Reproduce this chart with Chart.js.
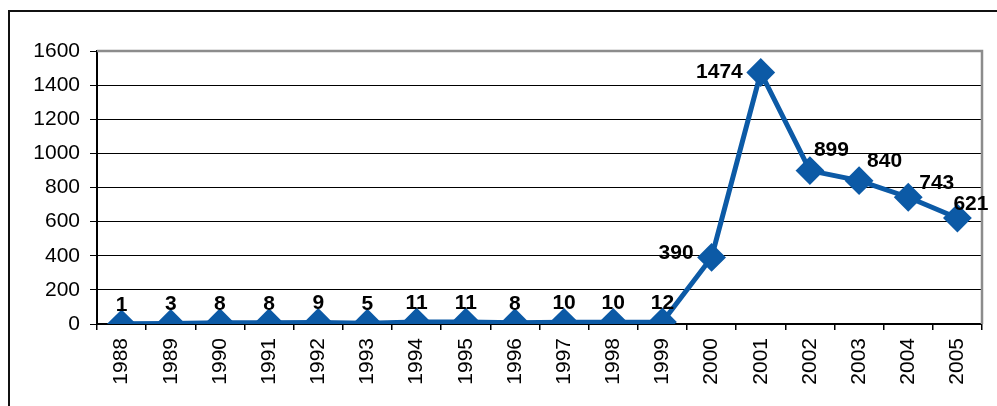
<!DOCTYPE html>
<html>
<head>
<meta charset="utf-8">
<script src="https://cdn.jsdelivr.net/npm/chart.js@4/dist/chart.umd.min.js"></script>
<style>
  html, body { margin: 0; padding: 0; background: #fff; }
  #wrap { position: relative; width: 997px; height: 406px; overflow: hidden; }
  #frame { position: absolute; left: 8px; top: 10px; width: 1000px; height: 420px; border: 2px solid #111; }
  #chart { position: absolute; left: 0; top: 0; }
</style>
</head>
<body>
<div id="wrap">
  <div id="frame"></div>
  <canvas id="chart" width="997" height="406"></canvas>
</div>
<script>
const years = ["1988", "1989", "1990", "1991", "1992", "1993", "1994", "1995", "1996",
  "1997", "1998", "1999", "2000", "2001", "2002", "2003", "2004", "2005"];
const counts = [1, 3, 8, 8, 9, 5, 11, 11, 8, 10, 10, 12, 390, 1474, 899, 840, 743, 621];
const yTicks = [0, 200, 400, 600, 800, 1000, 1200, 1400, 1600];

// where each value label sits relative to its point
const labelAlign = ["above", "above", "above", "above", "above", "above", "above", "above", "above",
  "above", "above", "above", "left", "left", "right", "right", "right", "right"];
const labelNudge = [[0, 0], [0, 0], [0, 0], [0, 0], [0, 0], [0, 0], [0, 0], [0, 0], [0, 0],
  [0, 0], [0, 0], [0, 0], [0, -4], [0, 0], [4, -20], [8, -19], [11, -14], [-4, -14]];

const lineColor = "#0C5AA6";

Chart.defaults.font.family = "'Liberation Sans', Arial, Helvetica, sans-serif";
Chart.defaults.color = "#000";

const valueLabels = {
  id: "valueLabels",
  afterDatasetsDraw(chart) {
    const ctx = chart.ctx;
    const meta = chart.getDatasetMeta(0);
    ctx.save();
    ctx.font = "bold 21px 'Liberation Sans', Arial, sans-serif";
    ctx.fillStyle = "#000";
    meta.data.forEach((pt, i) => {
      const [dx, dy] = labelNudge[i];
      const text = String(counts[i]);
      if (labelAlign[i] === "above") {
        ctx.textAlign = "center";
        ctx.textBaseline = "alphabetic";
        ctx.fillText(text, pt.x + dx, pt.y - 13 + dy);
      } else if (labelAlign[i] === "left") {
        ctx.textAlign = "right";
        ctx.textBaseline = "middle";
        ctx.fillText(text, pt.x - 18 + dx, pt.y + dy);
      } else {
        ctx.textAlign = "left";
        ctx.textBaseline = "middle";
        ctx.fillText(text, pt.x + dx, pt.y + dy);
      }
    });
    ctx.restore();
  }
};

// grey plot-area border on the top and right sides
const plotBorder = {
  id: "plotBorder",
  beforeDatasetsDraw(chart) {
    const { ctx, chartArea: a } = chart;
    ctx.save();
    ctx.strokeStyle = "#8c8c8c";
    ctx.lineWidth = 2.5;
    ctx.beginPath();
    ctx.moveTo(a.left, a.top);
    ctx.lineTo(a.right, a.top);
    ctx.lineTo(a.right, a.bottom);
    ctx.stroke();
    ctx.restore();
  }
};

new Chart(document.getElementById("chart"), {
  type: "line",
  data: {
    labels: years,
    datasets: [{
      data: counts,
      borderColor: lineColor,
      backgroundColor: lineColor,
      borderWidth: 5,
      pointStyle: "rectRot",
      pointRadius: 13,
      pointBorderWidth: 2,
      pointBorderColor: lineColor,
      pointBackgroundColor: lineColor,
      tension: 0
    }]
  },
  options: {
    responsive: false,
    animation: false,
    events: [],
    layout: { padding: { left: 0, top: 51, right: 11, bottom: 0 } },
    plugins: {
      legend: { display: false },
      tooltip: { enabled: false }
    },
    scales: {
      x: {
        offset: true,
        grid: {
          offset: true,
          drawOnChartArea: false,
          drawTicks: true,
          tickLength: 6,
          color: "#000",
          lineWidth: 1.5
        },
        border: { color: "#000", width: 2 },
        ticks: {
          minRotation: 90,
          maxRotation: 90,
          padding: 8,
          font: { size: 21 },
          color: "#000"
        },
        afterFit(s) { s.height = 82; }
      },
      y: {
        min: 0,
        max: 1600,
        afterBuildTicks(s) { s.ticks = yTicks.map(v => ({ value: v })); },
        grid: {
          color: "#000",
          lineWidth: 1,
          drawTicks: true,
          tickLength: 7
        },
        border: { color: "#000", width: 2 },
        ticks: {
          padding: 10,
          font: { size: 21 },
          color: "#000",
          callback: v => String(v)
        },
        afterFit(s) { s.width = 97; }
      }
    }
  },
  plugins: [plotBorder, valueLabels]
});
</script>
</body>
</html>
